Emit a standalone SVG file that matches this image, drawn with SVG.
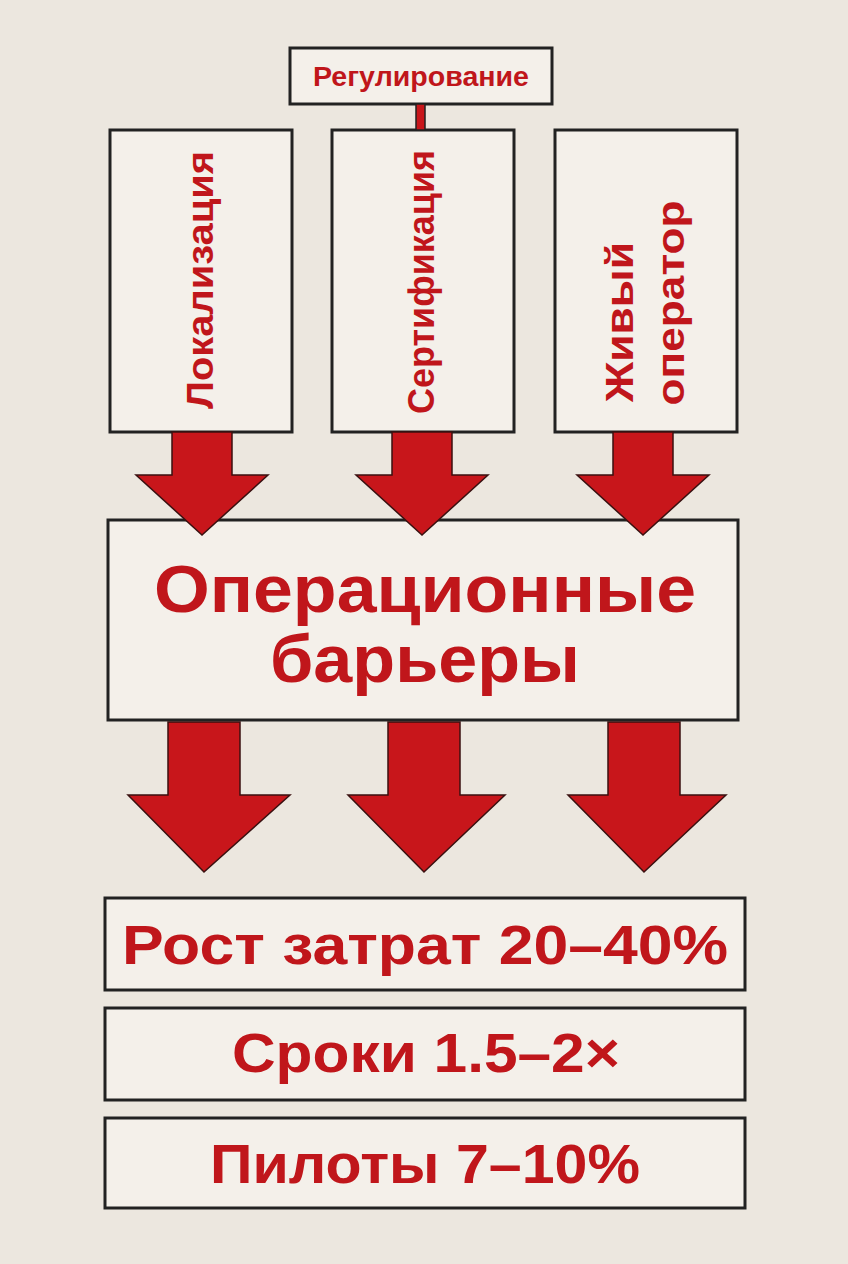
<svg xmlns="http://www.w3.org/2000/svg" width="848" height="1264" viewBox="0 0 848 1264">
<defs>
<style>
.box{fill:#f4f0ea;stroke:#222;stroke-width:3}
.t{font-family:"Liberation Sans",Arial,sans-serif;font-weight:bold;fill:#c0161b;text-anchor:middle}
.arr{fill:#c8161b;stroke:#3a1010;stroke-width:1.5}
</style>
</defs>
<rect width="848" height="1264" fill="#ece7df"/>
<g id="reg"><rect class="box" x="290" y="48" width="262" height="56"/><text class="t" x="421" y="86" font-size="27" textLength="216" lengthAdjust="spacingAndGlyphs">Регулирование</text></g>
<g id="loc"><rect class="box" x="110" y="130" width="182" height="302"/><text class="t" font-size="37" transform="translate(213,280) rotate(-90)" textLength="258" lengthAdjust="spacingAndGlyphs">Локализация</text></g>
<g id="cert"><rect class="box" x="332" y="130" width="182" height="302"/><text class="t" font-size="36" transform="translate(434,282) rotate(-90)" textLength="264" lengthAdjust="spacingAndGlyphs">Сертификация</text></g>
<g id="oper"><rect class="box" x="555" y="130" width="182" height="302"/><text class="t" font-size="38" transform="translate(633,322) rotate(-90)" textLength="160" lengthAdjust="spacingAndGlyphs">Живый</text><text class="t" font-size="38" transform="translate(684,303) rotate(-90)" textLength="205" lengthAdjust="spacingAndGlyphs">оператор</text></g>
<g id="barr"><rect class="box" x="108" y="520" width="630" height="200"/><text class="t" x="425" y="612" font-size="66" textLength="542" lengthAdjust="spacingAndGlyphs">Операционные</text><text class="t" x="425" y="682" font-size="66" textLength="310" lengthAdjust="spacingAndGlyphs">барьеры</text></g>
<g id="r1"><rect class="box" x="105" y="898" width="640" height="92"/><text class="t" x="425" y="964" font-size="56" textLength="606" lengthAdjust="spacingAndGlyphs">Рост затрат 20–40%</text></g>
<g id="r2"><rect class="box" x="105" y="1008" width="640" height="92"/><text class="t" x="426" y="1072" font-size="55" textLength="388" lengthAdjust="spacingAndGlyphs">Сроки 1.5–2×</text></g>
<g id="r3"><rect class="box" x="105" y="1118" width="640" height="90"/><text class="t" x="425" y="1183" font-size="55" textLength="430" lengthAdjust="spacingAndGlyphs">Пилоты 7–10%</text></g>
<g id="connectors">
<rect x="416" y="104" width="9" height="26" fill="#c8161b" stroke="#222" stroke-width="1.5"/>
<polygon class="arr" points="172,432 232,432 232,475 268,475 202,535 136,475 172,475"/>
<polygon class="arr" points="392,432 452,432 452,475 488,475 422,535 356,475 392,475"/>
<polygon class="arr" points="613,432 673,432 673,475 709,475 643,535 577,475 613,475"/>
<polygon class="arr" points="168,722 240,722 240,795 290,795 204,872 128,795 168,795"/>
<polygon class="arr" points="388,722 460,722 460,795 505,795 424,872 348,795 388,795"/>
<polygon class="arr" points="608,722 680,722 680,795 726,795 644,872 568,795 608,795"/>
</g>
</svg>
